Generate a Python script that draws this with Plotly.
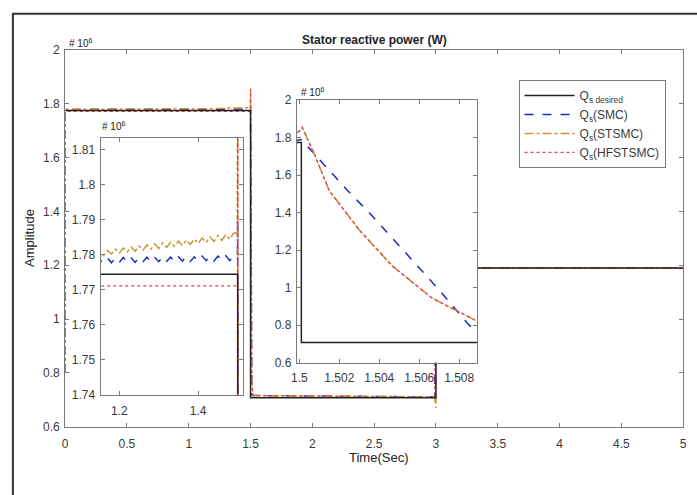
import plotly.graph_objects as go

# ---------------- data (values in units of 10^6) ----------------
fine_t = [1.15, 1.16, 1.17, 1.18, 1.19, 1.20, 1.21, 1.22, 1.23, 1.24, 1.25, 1.26,
          1.27, 1.28, 1.29, 1.30, 1.31, 1.32, 1.33, 1.34, 1.35, 1.36, 1.37, 1.38,
          1.39, 1.40, 1.41, 1.42, 1.43, 1.44, 1.45, 1.46, 1.47, 1.48, 1.49]

des_t = [0, 1.5001, 1.5001, 3.0, 3.0, 5.0]
des_v = [1.7744, 1.7744, 0.708, 0.708, 1.19, 1.19]

smc_t = ([0, 0.001, 0.05, 0.3, 0.6, 0.9] + fine_t +
         [1.4995, 1.5001, 1.5024, 1.5035, 1.5052, 1.5069, 1.5085, 1.509, 1.5105,
          1.52, 2.0, 2.5, 2.99, 3.0, 3.01, 3.5, 4.0, 4.5, 5.0])
smc_v = ([0.80, 1.778, 1.7785, 1.7786, 1.7787, 1.7788] +
         [1.7785, 1.7776, 1.7790, 1.7777, 1.7791, 1.7778, 1.7792, 1.7779, 1.7791, 1.7778,
          1.7792, 1.7780, 1.7793, 1.7779, 1.7792, 1.7780, 1.7794, 1.7781, 1.7793, 1.7780,
          1.7794, 1.7782, 1.7795, 1.7781, 1.7794, 1.7782, 1.7796, 1.7783, 1.7795, 1.7782,
          1.7796, 1.7784, 1.7797, 1.7783, 1.7796] +
         [1.7796, 1.790, 1.520, 1.400, 1.200, 1.000, 0.800, 0.760, 0.718,
          0.716, 0.714, 0.712, 0.711, 1.19, 1.19, 1.19, 1.19, 1.19, 1.19])

st_t = ([0, 0.001, 0.05, 0.3, 0.6, 0.9] + fine_t +
        [1.4995, 1.50015, 1.5008, 1.5015, 1.5030, 1.50465, 1.50665, 1.50885, 1.511,
         1.515, 1.52, 2.0, 2.5, 2.99, 3.0, 3.0005, 3.01, 3.5, 4.0, 4.5, 5.0])
st_v = ([0.80, 1.779, 1.7790, 1.7795, 1.7800, 1.7804] +
        [1.7806, 1.7798, 1.7812, 1.7802, 1.7816, 1.7805, 1.7819, 1.7808, 1.7822, 1.7810,
         1.7825, 1.7813, 1.7828, 1.7816, 1.7831, 1.7818, 1.7834, 1.7821, 1.7836, 1.7824,
         1.7839, 1.7826, 1.7842, 1.7829, 1.7845, 1.7832, 1.7848, 1.7835, 1.7851, 1.7838,
         1.7855, 1.7841, 1.7858, 1.7844, 1.7862] +
        [1.7862, 1.855, 1.700, 1.517, 1.308, 1.116, 0.944, 0.824, 0.760,
         0.725, 0.716, 0.714, 0.712, 0.711, 0.670, 1.19, 1.19, 1.19, 1.19, 1.19, 1.19])

hf_t = ([0, 0.001, 0.05, 0.3, 0.6, 0.9] + fine_t +
        [1.4995, 1.50015, 1.5008, 1.5015, 1.5030, 1.50465, 1.50665, 1.50885, 1.511,
         1.515, 1.52, 2.0, 2.5, 2.99, 3.0, 3.01, 3.5, 4.0, 4.5, 5.0])
hf_v = ([0.80, 1.7711, 1.7711, 1.7711, 1.7711, 1.7711] + [1.7711] * 35 +
        [1.7711, 1.855, 1.700, 1.517, 1.308, 1.116, 0.944, 0.824, 0.760,
         0.725, 0.716, 0.714, 0.712, 0.710, 1.19, 1.19, 1.19, 1.19, 1.19, 1.19])

names = ["Q<sub>s desired</sub>", "Q<sub>s</sub>(SMC)", "Q<sub>s</sub>(STSMC)",
         "Q<sub>s</sub>(HFSTSMC)"]
series = [(des_t, des_v), (smc_t, smc_v), (st_t, st_v), (hf_t, hf_v)]
colors = ["#222222", "#1c2bc4", "#c9962e", "#e0405e"]
dashes = ["solid", "dash", "dashdot", "dot"]
widths = [1.5, 1.5, 1.5, 1.3]
draw_order = [1, 2, 3, 0]   # desired drawn last (on top)

main_x_ticks = [0, 0.5, 1, 1.5, 2, 2.5, 3, 3.5, 4, 4.5, 5]
main_x_text = ["0", "0.5", "1", "1.5", "2", "2.5", "3", "3.5", "4", "4.5", "5"]
main_y_ticks = [0.6, 0.8, 1.0, 1.2, 1.4, 1.6, 1.8, 2.0]
main_y_text = ["0.6", "0.8", "1", "1.2", "1.4", "1.6", "1.8", "2"]
in1_x_ticks = [1.2, 1.4]
in1_x_text = ["1.2", "1.4"]
in1_y_ticks = [1.74, 1.75, 1.76, 1.77, 1.78, 1.79, 1.80, 1.81]
in1_y_text = ["1.74", "1.75", "1.76", "1.77", "1.78", "1.79", "1.8", "1.81"]
in2_x_ticks = [1.5, 1.502, 1.504, 1.506, 1.508]
in2_x_text = ["1.5", "1.502", "1.504", "1.506", "1.508"]

W, H = 697, 495
FONT = "Liberation Sans, Arial, sans-serif"
AX = "#7a7a7a"
TXT = "#3a3a3a"


def px_x(p):
    return p / W


def px_y(p):
    return (H - p) / H


fig = go.Figure()
for k, (xa, ya) in enumerate([("x", "y"), ("x2", "y2"), ("x3", "y3")]):
    for i in draw_order:
        t, v = series[i]
        fig.add_trace(go.Scatter(
            x=t, y=v, mode="lines", name=names[i], showlegend=(k == 0),
            legendrank=100 + i, xaxis=xa, yaxis=ya,
            line=dict(color=colors[i], dash=dashes[i], width=widths[i])))


def axstyle(dom, rng, tv, tt, anchor, standoff=2, fs=12):
    return dict(domain=dom, range=rng, tickvals=tv, ticktext=tt, anchor=anchor,
                showline=True, linecolor=AX, linewidth=1, mirror="ticks",
                ticks="inside", ticklen=4, tickcolor=AX, showgrid=False,
                zeroline=False, ticklabelstandoff=standoff,
                tickfont=dict(family=FONT, size=fs, color=TXT))


fig.update_layout(
    width=W, height=H, margin=dict(l=0, r=0, t=0, b=0),
    paper_bgcolor="white", plot_bgcolor="white",
    xaxis=axstyle([px_x(60), px_x(687)], [0, 5], main_x_ticks, main_x_text, "y", 6),
    yaxis=axstyle([px_y(432), px_y(44)], [0.6, 2.0], main_y_ticks, main_y_text, "x"),
    xaxis2=axstyle([px_x(96), px_x(240)], [1.1525, 1.5125], in1_x_ticks, in1_x_text, "y2", 5),
    yaxis2=axstyle([px_y(399), px_y(135)], [1.74, 1.8133], in1_y_ticks, in1_y_text, "x2"),
    xaxis3=axstyle([px_x(295), px_x(478)], [1.49987, 1.5089], in2_x_ticks, in2_x_text, "y3", 4),
    yaxis3=axstyle([px_y(366), px_y(96)], [0.6, 2.0], main_y_ticks, main_y_text, "x3"),
    legend=dict(x=px_x(520), y=px_y(75), xanchor="left", yanchor="top",
                bgcolor="white", bordercolor=AX, borderwidth=1,
                font=dict(family=FONT, size=12, color=TXT),
                itemwidth=50, tracegroupgap=0, traceorder="normal"),
    showlegend=True,
)

fig.add_shape(type="rect", xref="paper", yref="paper",
              x0=px_x(7), x1=1.06, y0=-0.06, y1=px_y(7),
              line=dict(color="#333333", width=2), fillcolor="rgba(0,0,0,0)")

ann = [
    dict(x=px_x(374), y=px_y(34), text="<b>Stator reactive power (W)</b>", size=12),
    dict(x=px_x(378), y=px_y(464), text="Time(Sec)", size=13),
    dict(x=px_x(24), y=px_y(238), text="Amplitude", size=13, angle=-90),
    dict(x=px_x(62), y=px_y(37), text="# 10<sup>6</sup>", size=10, xa="left"),
    dict(x=px_x(95), y=px_y(122), text="# 10<sup>6</sup>", size=10, xa="left"),
    dict(x=px_x(297), y=px_y(87), text="# 10<sup>6</sup>", size=10, xa="left"),
]
for a in ann:
    fig.add_annotation(x=a["x"], y=a["y"], xref="paper", yref="paper",
                       text=a["text"], showarrow=False,
                       xanchor=a.get("xa", "center"), yanchor="middle",
                       textangle=a.get("angle", 0),
                       font=dict(family=FONT, size=a["size"], color="#222222"))

fig.write_html("out.html")
